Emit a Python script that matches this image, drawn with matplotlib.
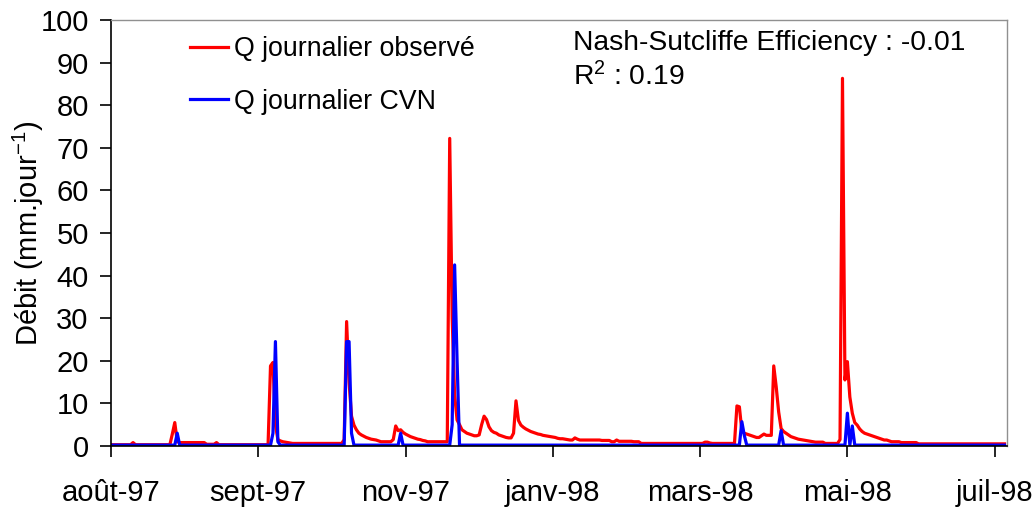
import pandas as pd
import matplotlib
matplotlib.use("Agg")
import matplotlib.pyplot as plt

plt.rcParams['font.family'] = ['Liberation Sans', 'DejaVu Sans']
plt.rcParams['mathtext.fontset'] = 'custom'
plt.rcParams['mathtext.rm'] = 'Liberation Sans'
plt.rcParams['mathtext.it'] = 'Liberation Sans'

start = "1997-08-01"

# debit journalier observe (mm/jour), un point par jour a partir du 1er aout 1997
q_obs = [
    0.3, 0.3, 0.3, 0.3, 0.3, 0.3, 0.3, 0.3, 0.3, 0.8,
    0.3, 0.3, 0.3, 0.3, 0.3, 0.3, 0.3, 0.3, 0.3, 0.3,
    0.3, 0.3, 0.3, 0.3, 0.3, 2.8, 5.5, 1.0, 0.8, 0.8,
    0.8, 0.8, 0.8, 0.8, 0.8, 0.8, 0.8, 0.8, 0.8, 0.4,
    0.4, 0.4, 0.4, 0.8, 0.3, 0.3, 0.3, 0.3, 0.3, 0.3,
    0.3, 0.3, 0.3, 0.3, 0.3, 0.3, 0.3, 0.3, 0.3, 0.3,
    0.3, 0.3, 0.3, 0.3, 0.3, 18.8, 19.6, 5.0, 1.5, 1.2,
    1.0, 0.9, 0.8, 0.7, 0.6, 0.6, 0.6, 0.6, 0.6, 0.6,
    0.6, 0.6, 0.6, 0.6, 0.6, 0.6, 0.6, 0.6, 0.6, 0.6,
    0.6, 0.6, 0.6, 0.6, 0.6, 1.5, 29.2, 15.0, 7.0, 4.9,
    3.8, 3.0, 2.6, 2.3, 2.0, 1.8, 1.6, 1.5, 1.4, 1.2,
    1.0, 1.0, 1.0, 1.0, 1.0, 1.5, 4.7, 3.6, 3.8, 3.2,
    2.8, 2.5, 2.2, 2.0, 1.8, 1.6, 1.5, 1.3, 1.2, 1.0,
    1.0, 1.0, 1.0, 1.0, 1.0, 1.0, 1.0, 1.0, 72.2, 30.0,
    12.0, 6.1, 5.0, 3.8, 3.4, 3.0, 2.8, 2.6, 2.4, 2.4,
    2.6, 5.0, 7.0, 6.2, 4.5, 3.6, 3.2, 3.0, 2.6, 2.4,
    2.2, 2.0, 1.9, 1.9, 3.0, 10.6, 6.0, 4.9, 4.4, 4.0,
    3.7, 3.4, 3.2, 3.0, 2.8, 2.7, 2.5, 2.4, 2.3, 2.2,
    2.1, 2.0, 1.8, 1.7, 1.7, 1.6, 1.5, 1.4, 1.4, 1.9,
    1.6, 1.4, 1.4, 1.4, 1.4, 1.4, 1.4, 1.4, 1.4, 1.4,
    1.3, 1.3, 1.3, 1.3, 1.0, 1.0, 1.4, 1.1, 1.1, 1.1,
    1.1, 1.1, 1.1, 1.0, 1.0, 1.0, 0.6, 0.6, 0.6, 0.6,
    0.6, 0.6, 0.6, 0.6, 0.6, 0.6, 0.6, 0.6, 0.6, 0.6,
    0.6, 0.6, 0.6, 0.6, 0.6, 0.6, 0.6, 0.6, 0.6, 0.6,
    0.6, 0.6, 0.9, 0.9, 0.7, 0.6, 0.6, 0.6, 0.6, 0.6,
    0.6, 0.6, 0.6, 0.6, 0.6, 9.4, 9.2, 3.6, 3.0, 2.8,
    2.6, 2.4, 2.2, 2.0, 2.0, 2.4, 2.8, 2.5, 2.5, 2.5,
    18.8, 13.9, 8.0, 4.1, 3.4, 3.0, 2.6, 2.2, 2.0, 1.8,
    1.6, 1.5, 1.4, 1.3, 1.2, 1.1, 1.0, 0.9, 0.9, 0.9,
    0.9, 0.6, 0.6, 0.6, 0.6, 0.6, 0.6, 1.5, 86.3, 15.5,
    19.8, 11.5, 7.7, 5.5, 4.9, 4.0, 3.4, 3.0, 2.8, 2.6,
    2.4, 2.2, 2.0, 1.8, 1.6, 1.4, 1.4, 1.2, 1.0, 1.0,
    1.0, 1.0, 0.8, 0.8, 0.8, 0.8, 0.8, 0.8, 0.8, 0.5,
    0.5, 0.5, 0.5, 0.5, 0.5, 0.5, 0.5, 0.5, 0.5, 0.5,
    0.5, 0.5, 0.5, 0.5, 0.5, 0.5, 0.5, 0.5, 0.5, 0.5,
    0.5, 0.5, 0.5, 0.5, 0.5, 0.5, 0.5, 0.5, 0.5, 0.5,
    0.5, 0.5, 0.5, 0.5, 0.5,
]

# debit journalier simule CVN
q_cvn = [
    0.2, 0.2, 0.2, 0.2, 0.2, 0.2, 0.2, 0.2, 0.2, 0.2,
    0.2, 0.2, 0.2, 0.2, 0.2, 0.2, 0.2, 0.2, 0.2, 0.2,
    0.2, 0.2, 0.2, 0.2, 0.2, 0.2, 0.2, 3.0, 0.2, 0.2,
    0.2, 0.2, 0.2, 0.2, 0.2, 0.2, 0.2, 0.2, 0.2, 0.2,
    0.2, 0.2, 0.2, 0.2, 0.2, 0.2, 0.2, 0.2, 0.2, 0.2,
    0.2, 0.2, 0.2, 0.2, 0.2, 0.2, 0.2, 0.2, 0.2, 0.2,
    0.2, 0.2, 0.2, 0.2, 0.2, 0.2, 3.0, 24.5, 1.0, 0.2,
    0.2, 0.2, 0.2, 0.2, 0.2, 0.2, 0.2, 0.2, 0.2, 0.2,
    0.2, 0.2, 0.2, 0.2, 0.2, 0.2, 0.2, 0.2, 0.2, 0.2,
    0.2, 0.2, 0.2, 0.2, 0.2, 0.2, 24.5, 24.5, 3.0, 0.2,
    0.2, 0.2, 0.2, 0.2, 0.2, 0.2, 0.2, 0.2, 0.2, 0.2,
    0.2, 0.2, 0.2, 0.2, 0.2, 0.2, 0.2, 0.2, 3.0, 0.2,
    0.2, 0.2, 0.2, 0.2, 0.2, 0.2, 0.2, 0.2, 0.2, 0.2,
    0.2, 0.2, 0.2, 0.2, 0.2, 0.2, 0.2, 0.2, 0.2, 5.0,
    42.5, 20.0, 0.2, 0.2, 0.2, 0.2, 0.2, 0.2, 0.2, 0.2,
    0.2, 0.2, 0.2, 0.2, 0.2, 0.2, 0.2, 0.2, 0.2, 0.2,
    0.2, 0.2, 0.2, 0.2, 0.2, 0.2, 0.2, 0.2, 0.2, 0.2,
    0.2, 0.2, 0.2, 0.2, 0.2, 0.2, 0.2, 0.2, 0.2, 0.2,
    0.2, 0.2, 0.2, 0.2, 0.2, 0.2, 0.2, 0.2, 0.2, 0.2,
    0.2, 0.2, 0.2, 0.2, 0.2, 0.2, 0.2, 0.2, 0.2, 0.2,
    0.2, 0.2, 0.2, 0.2, 0.2, 0.2, 0.2, 0.2, 0.2, 0.2,
    0.2, 0.2, 0.2, 0.2, 0.2, 0.2, 0.2, 0.2, 0.2, 0.2,
    0.2, 0.2, 0.2, 0.2, 0.2, 0.2, 0.2, 0.2, 0.2, 0.2,
    0.2, 0.2, 0.2, 0.2, 0.2, 0.2, 0.2, 0.2, 0.2, 0.2,
    0.2, 0.2, 0.2, 0.2, 0.2, 0.2, 0.2, 0.2, 0.2, 0.2,
    0.2, 0.2, 0.2, 0.2, 0.2, 0.2, 0.2, 5.7, 2.5, 0.2,
    0.2, 0.2, 0.2, 0.2, 0.2, 0.2, 0.2, 0.2, 0.2, 0.2,
    0.2, 0.2, 0.2, 3.6, 0.2, 0.2, 0.2, 0.2, 0.2, 0.2,
    0.2, 0.2, 0.2, 0.2, 0.2, 0.2, 0.2, 0.2, 0.2, 0.2,
    0.2, 0.2, 0.2, 0.2, 0.2, 0.2, 0.2, 0.2, 0.2, 0.2,
    7.7, 0.2, 4.7, 0.2, 0.2, 0.2, 0.2, 0.2, 0.2, 0.2,
    0.2, 0.2, 0.2, 0.2, 0.2, 0.2, 0.2, 0.2, 0.2, 0.2,
    0.2, 0.2, 0.2, 0.2, 0.2, 0.2, 0.2, 0.2, 0.2, 0.2,
    0.2, 0.2, 0.2, 0.2, 0.2, 0.2, 0.2, 0.2, 0.2, 0.2,
    0.2, 0.2, 0.2, 0.2, 0.2, 0.2, 0.2, 0.2, 0.2, 0.2,
    0.2, 0.2, 0.2, 0.2, 0.2, 0.2, 0.2, 0.2, 0.2, 0.2,
    0.2, 0.2, 0.2, 0.2, 0.2,
]

tick_labels = ["août-97", "sept-97", "nov-97", "janv-98", "mars-98", "mai-98", "juil-98"]
nse = -0.01
r2 = 0.19

dates = pd.date_range(start, periods=len(q_obs), freq="D")
ticks = pd.date_range(start, periods=len(tick_labels), freq="60D")

fig = plt.figure(figsize=(10.35, 5.09), dpi=100)
ax = fig.add_axes([0.1072, 0.1238, 0.8657, 0.8369])

ax.plot(dates, q_obs, color="#ff0000", lw=2.3, label="Q journalier observé")
ax.plot(dates, q_cvn, color="#0000ff", lw=2.3, label="Q journalier CVN")

ax.set_xlim(dates[0], dates[0] + pd.Timedelta(days=365))
ax.set_ylim(0, 100)
ax.set_yticks(range(0, 101, 10))
ax.set_xticks(ticks)
ax.set_xticklabels(tick_labels)

ax.tick_params(axis="both", labelsize=21, length=8, width=1.2, direction="out")
ax.tick_params(axis="y", pad=8)
ax.tick_params(axis="x", pad=16)
for s in ["left", "bottom"]:
    ax.spines[s].set_color("black")
    ax.spines[s].set_linewidth(1.2)
for s in ["top", "right"]:
    ax.spines[s].set_color("#909090")
    ax.spines[s].set_linewidth(1.0)

ax.set_ylabel("Débit (mm.jour$^{-1}$)", fontsize=21, labelpad=-4)

ax.legend(loc="upper left", bbox_to_anchor=(190 / 1035, 1 - 36 / 509),
          bbox_transform=fig.transFigure, frameon=False, fontsize=19.3,
          handlelength=1.4, handletextpad=0.25, labelspacing=1.0,
          borderpad=0, borderaxespad=0)

fig.text(573 / 1035, 1 - 43 / 509, f"Nash-Sutcliffe Efficiency : {nse:.2f}",
         fontsize=20.3, va="center", ha="left")
fig.text(573 / 1035, 1 - 77 / 509, f"R$^2$ : {r2:.2f}",
         fontsize=20.3, va="center", ha="left")

fig.savefig("out.png", dpi=100)
